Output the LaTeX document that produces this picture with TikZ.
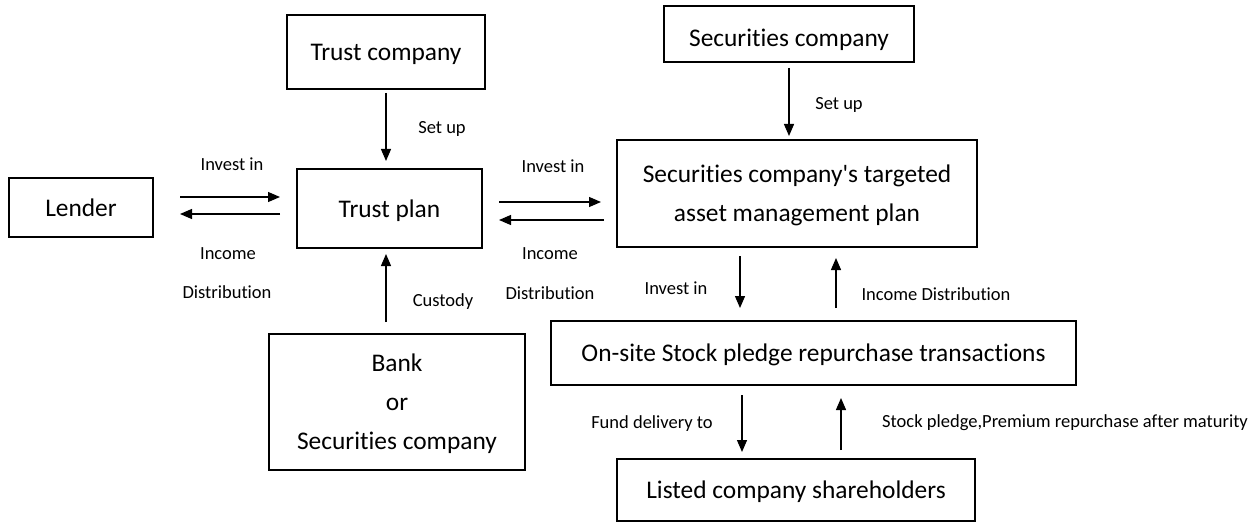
\documentclass[tikz,border=0pt]{standalone}
\usepackage{fontspec}
\setmainfont{Carlito}[Ligatures=NoCommon]
\usetikzlibrary{arrows.meta}
\begin{document}
\begin{tikzpicture}[x=1pt,y=-1pt,
  box/.style={draw=black, line width=2pt, align=center, inner sep=0pt, text depth=0pt, font=\fontsize{25.4}{39}\selectfont},
  lbl/.style={inner sep=0pt, font=\fontsize{18.5}{22}\selectfont},
  arr/.style={line width=1.3pt, -{Triangle[length=12pt,width=10pt]}}]
\useasboundingbox (0,0) rectangle (1259,524);
% boxes
\node[box, minimum width=198pt, minimum height=74pt] (trustco) at (386,52) {Trust company};
\node[box, minimum width=250pt, minimum height=56pt, text height=25pt] (secco) at (789,34) {Securities company};
\node[box, minimum width=144pt, minimum height=59pt] (lender) at (81,207.5) {Lender};
\node[box, minimum width=185pt, minimum height=79pt] (trustplan) at (389.5,208.5) {Trust plan};
\node[box, minimum width=360pt, minimum height=107pt] (scplan) at (797,193.5) {Securities company\textquotesingle s targeted\\asset management plan};
\node[box, minimum width=256pt, minimum height=136pt] (bank) at (397,402) {Bank\\or\\Securities company};
\node[box, minimum width=525pt, minimum height=64pt] (onsite) at (813.5,353) {On-site Stock pledge repurchase transactions};
\node[box, minimum width=358pt, minimum height=62pt] (listed) at (796,490) {Listed company shareholders};
% connectors
\draw[arr, shorten <=3pt, shorten >=7pt] (trustco.south) -- (trustco.south |- trustplan.north);
\draw[arr, shorten <=5pt, shorten >=3pt] (secco.south) -- (secco.south |- scplan.north);
\draw[arr, shorten <=26pt, shorten >=16pt] (lender.east |- 0,197) -- (trustplan.west |- 0,197);
\draw[arr, shorten <=16pt, shorten >=26pt] (trustplan.west |- 0,214) -- (lender.east |- 0,214);
\draw[arr, shorten <=16pt, shorten >=15pt] (trustplan.east |- 0,202) -- (scplan.west |- 0,202);
\draw[arr, shorten <=12pt, shorten >=16pt] (scplan.west |- 0,220) -- (trustplan.east |- 0,220);
\draw[arr, shorten <=11pt, shorten >=5pt] (bank.north -| 386,0) -- (trustplan.south -| 386,0);
\draw[arr, shorten <=8pt, shorten >=12pt] (scplan.south -| 740,0) -- (onsite.north -| 740,0);
\draw[arr, shorten <=12pt, shorten >=10pt] (onsite.north -| 836,0) -- (scplan.south -| 836,0);
\draw[arr, shorten <=9pt, shorten >=6pt] (onsite.south -| 742,0) -- (listed.north -| 742,0);
\draw[arr, shorten <=8pt, shorten >=12pt] (listed.north -| 841,0) -- (onsite.south -| 841,0);
% labels
\node[lbl] (l1) at (232,164) {Invest in};
\node[lbl] (l2) at (228,254) {Income};
\node[lbl] (l3) at (227,292) {Distribution};
\node[lbl] (l4) at (442,129) {Set up};
\node[lbl] (l5) at (553,166) {Invest in};
\node[lbl] (l6) at (550,254) {Income};
\node[lbl] (l7) at (550,293) {Distribution};
\node[lbl] (l8) at (443,302) {Custody};
\node[lbl] (l9) at (839,105) {Set up};
\node[lbl] (l10) at (676,288) {Invest in};
\node[lbl] (l11) at (936,294) {Income Distribution};
\node[lbl] (l12) at (652,424) {Fund delivery to};
\node[lbl] (l13) at (1065,423) {Stock pledge,Premium repurchase after maturity};
\end{tikzpicture}
\end{document}
